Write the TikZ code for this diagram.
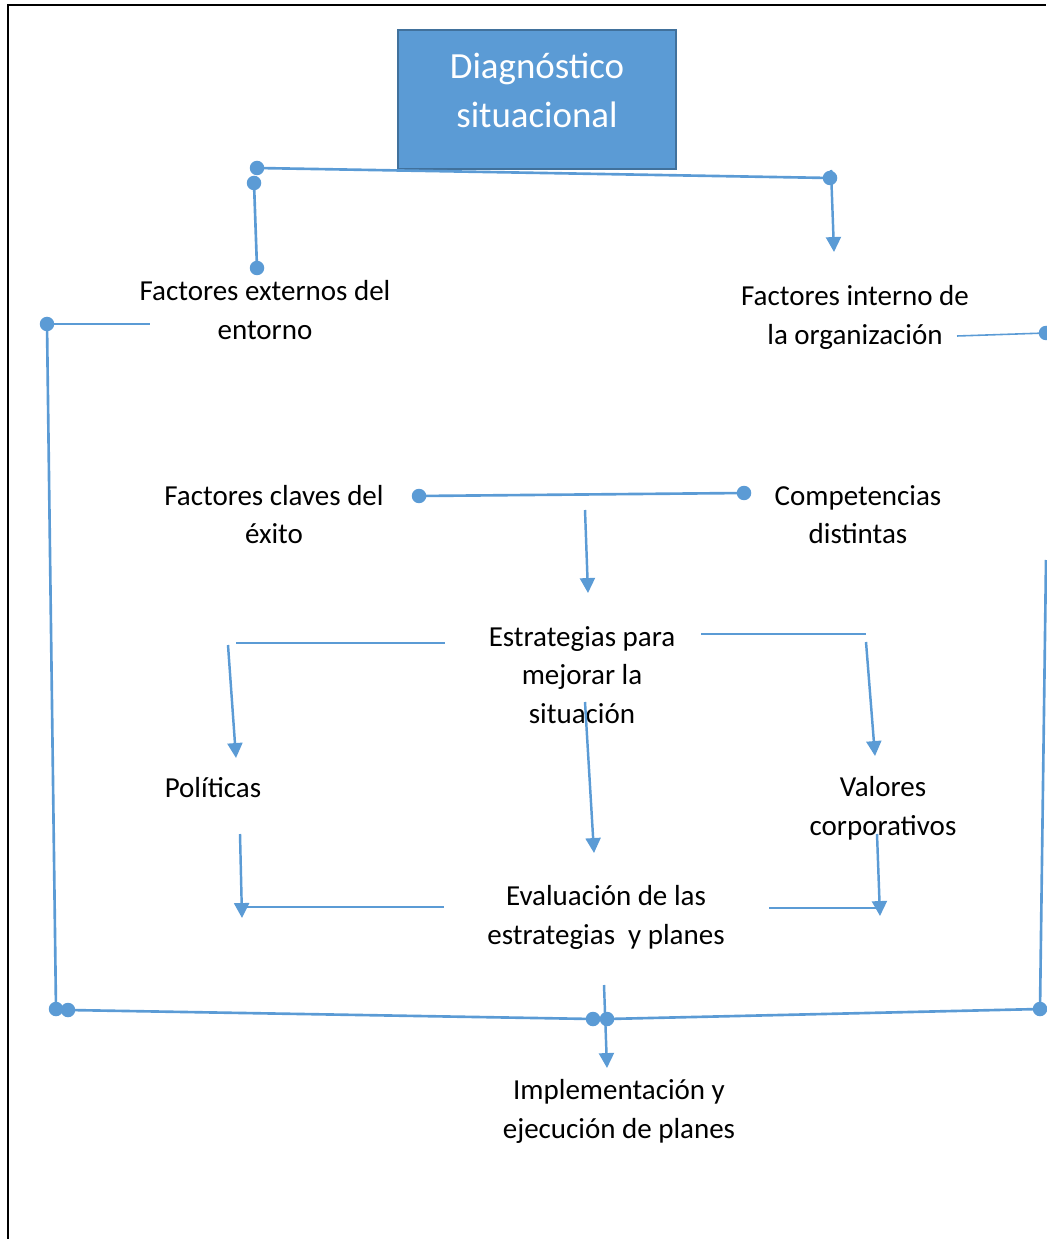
\documentclass[tikz,border=0pt]{standalone}
\usepackage{fontspec}
\setmainfont{Carlito}
\usetikzlibrary{arrows.meta}
\definecolor{linkblue}{RGB}{91,155,213}
\definecolor{boxedge}{RGB}{65,113,156}

\begin{document}
\begin{tikzpicture}[x=0.02cm, y=-0.02cm, >={Triangle[width=8.5pt,length=8.5pt]},
    conn/.style={linkblue, line width=1.5pt},
    thinconn/.style={linkblue, line width=0.9pt},
    arrconn/.style={linkblue, line width=1.4pt, ->},
    txt/.style={align=center, inner sep=0pt, font=\fontsize{16.5}{22}\selectfont}]
    % Page size and frame
    \useasboundingbox (0,0) rectangle (1046,1239);
    \draw[line width=1.6pt] (8,1239) -- (8,5) -- (1046,5);

    % Title box
    \node[fill=linkblue, draw=boxedge, line width=1.2pt, minimum width=5.56cm, minimum height=2.78cm, inner sep=0pt] (diag) at (537,99.5) {};
    \node[align=center, inner sep=0pt, text=white, font=\fontsize{21}{27.8}\selectfont] (diagtxt) at (537,90.5) {Diagnóstico\\situacional};

    % Text blocks
    \node[txt] (ext) at (265,310) {Factores externos del\\entorno};
    \node[txt] (int) at (855,317.5) {Factores interno de\\la organización};
    \node[txt] (claves) at (274,514.5) {Factores claves del\\éxito};
    \node[txt] (comp) at (858,514.5) {Competencias\\distintas};
    \node[txt] (estr) at (582,675) {Estrategias para\\mejorar la\\situación};
    \node[txt] (pol) at (213,787.5) {Políticas};
    \node[txt] (val) at (883,808.5) {Valores\\corporativos};
    \node[txt] (eval) at (606,917.5) {Evaluación de las\\estrategias\ \ y planes};
    \node[txt] (impl) at (619,1111.5) {Implementación y\\ejecución de planes};

    % End points of the connectors
    \coordinate (t1) at (257,168); \coordinate (t2) at (830,178);
    \coordinate (t3) at (254,183); \coordinate (t4) at (257,268);
    \coordinate (t5) at (831,170); \coordinate (t6) at (834,252);
    \coordinate (l1) at (47,324);  \coordinate (l2) at (150,324);
    \coordinate (l3) at (56,1009);
    \coordinate (b1) at (68,1010); \coordinate (b2) at (593,1019);
    \coordinate (b3) at (607,1019); \coordinate (b4) at (1040,1009);
    \coordinate (r1) at (1046,560); \coordinate (r2) at (957,336);
    \coordinate (r3) at (1046,333);
    \coordinate (m1) at (419,496); \coordinate (m2) at (744,493);
    \coordinate (m3) at (585,510); \coordinate (m4) at (588,593);
    \coordinate (p1) at (236,643); \coordinate (p2) at (445,643);
    \coordinate (p3) at (228,645); \coordinate (p4) at (236,758);
    \coordinate (v1) at (701,634); \coordinate (v2) at (866,634);
    \coordinate (v3) at (866,642); \coordinate (v4) at (875,756);
    \coordinate (c1) at (585,702); \coordinate (c2) at (594,853);
    \coordinate (e1) at (240,834); \coordinate (e2) at (242,918);
    \coordinate (e3) at (247,907); \coordinate (e4) at (444,907);
    \coordinate (e5) at (769,908); \coordinate (e6) at (876,908);
    \coordinate (e7) at (877,834); \coordinate (e8) at (880,916);
    \coordinate (i1) at (604,985); \coordinate (i2) at (607,1068);

    % Top branch
    \draw[conn] (t1) -- (t2);
    \draw[conn] (t3) -- (t4);
    \draw[arrconn] (t5) -- (t6);

    % Outer loop
    \draw[thinconn] (l1) -- (l2);
    \draw[conn] (l1) -- (l3);
    \draw[conn] (b1) -- (b2);
    \draw[conn] (b3) -- (b4);
    \draw[conn] (r1) -- (b4);
    \draw[thinconn] (r2) -- (r3);

    % Middle part
    \draw[conn] (m1) -- (m2);
    \draw[arrconn] (m3) -- (m4);
    \draw[thinconn] (p1) -- (p2);
    \draw[arrconn] (p3) -- (p4);
    \draw[thinconn] (v1) -- (v2);
    \draw[arrconn] (v3) -- (v4);
    \draw[arrconn] (c1) -- (c2);
    \draw[arrconn] (e1) -- (e2);
    \draw[thinconn] (e3) -- (e4);
    \draw[thinconn] (e5) -- (e6);
    \draw[arrconn] (e7) -- (e8);
    \draw[arrconn] (i1) -- (i2);

    % Round ends
    \foreach \p in {t1,t2,t3,t4,l1,l3,b1,b2,b3,b4,r3,m1,m2}
        \fill[linkblue] (\p) circle[radius=0.145cm];
\end{tikzpicture}
\end{document}
